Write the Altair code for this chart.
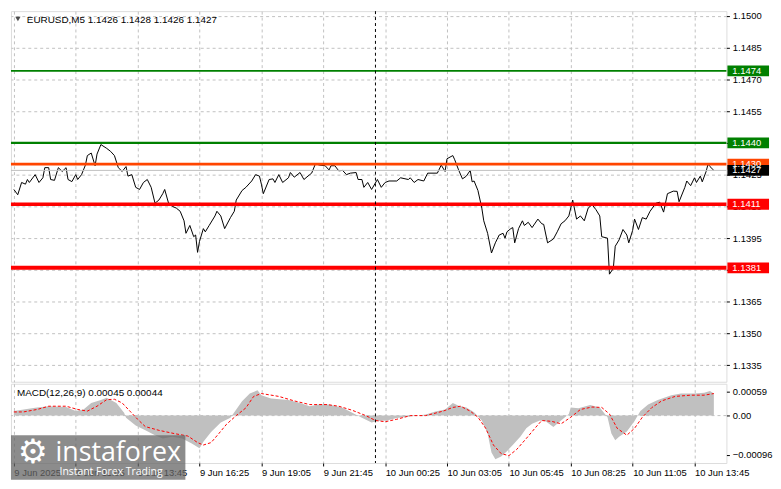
import json
import altair as alt
import pandas as pd

# ---------------- data ----------------
symbol = "EURUSD,M5"
ohlc = [1.1426, 1.1428, 1.1426, 1.1427]
macd_name = "MACD(12,26,9)"
macd_last = [0.00045, 0.00044]

# (bar index, close) – one bar = 5 minutes, bar 0 = 9 Jun 08:25
price_points = [
    (0, 1.14180), (2, 1.14155), (4, 1.14213), (6, 1.14205), (7, 1.14227), (8, 1.14213), (11, 1.14250),
    (13, 1.14213), (15, 1.14235), (16, 1.14283), (18, 1.14283), (19, 1.14227), (21, 1.14223), (23, 1.14283),
    (25, 1.14265), (27, 1.14283), (28, 1.14227), (30, 1.14217), (32, 1.14250), (33, 1.14227), (35, 1.14250),
    (37, 1.14295), (38, 1.14340), (40, 1.14352), (42, 1.14292), (43, 1.14347), (45, 1.14392), (48, 1.14374),
    (50, 1.14360), (52, 1.14340), (54, 1.14283), (56, 1.14265), (58, 1.14288), (59, 1.14243), (61, 1.14250),
    (63, 1.14190), (65, 1.14180), (67, 1.14213), (69, 1.14227), (71, 1.14190), (73, 1.14115), (75, 1.14130),
    (77, 1.14160), (78, 1.14180), (80, 1.14115), (82, 1.14100), (84, 1.14092), (86, 1.14077), (88, 1.14032),
    (89, 1.13973), (91, 1.14010), (93, 1.13957), (94, 1.13965), (95, 1.13883), (96, 1.13935), (98, 1.13995),
    (99, 1.13980), (101, 1.14010), (104, 1.14055), (105, 1.14077), (107, 1.14055), (109, 1.13995),
    (112, 1.14047), (114, 1.14077), (115, 1.14130), (118, 1.14175), (120, 1.14190), (123, 1.14220),
    (125, 1.14250), (127, 1.14243), (128, 1.14205), (129, 1.14160), (132, 1.14227), (134, 1.14230),
    (135, 1.14213), (137, 1.14250), (139, 1.14213), (142, 1.14235), (143, 1.14260), (145, 1.14238),
    (148, 1.14260), (150, 1.14227), (153, 1.14250), (154, 1.14257), (156, 1.14302), (158, 1.14295),
    (161, 1.14292), (163, 1.14272), (164, 1.14292), (166, 1.14292), (168, 1.14268), (170, 1.14270),
    (172, 1.14250), (174, 1.14257), (177, 1.14260), (178, 1.14227), (180, 1.14227), (181, 1.14190),
    (183, 1.14213), (185, 1.14180), (188, 1.14227), (190, 1.14190), (192, 1.14213), (194, 1.14220),
    (198, 1.14220), (200, 1.14235), (204, 1.14227), (205, 1.14235), (207, 1.14213), (209, 1.14227),
    (212, 1.14220), (214, 1.14257), (219, 1.14257), (221, 1.14295), (223, 1.14265), (224, 1.14325),
    (227, 1.14340), (228, 1.14320), (230, 1.14272), (232, 1.14230), (234, 1.14243), (236, 1.14270),
    (237, 1.14216), (238, 1.14220), (240, 1.14175), (242, 1.14092), (243, 1.14032), (245, 1.13973),
    (247, 1.13880), (249, 1.13928), (251, 1.13965), (253, 1.13973), (254, 1.13950), (255, 1.13980),
    (257, 1.13995), (258, 1.14000), (259, 1.13928), (261, 1.13995), (263, 1.14032), (264, 1.14010),
    (266, 1.14025), (268, 1.14000), (271, 1.14040), (273, 1.14018), (274, 1.14015), (276, 1.13928),
    (279, 1.13946), (281, 1.13980), (283, 1.14018), (285, 1.14032), (287, 1.14055), (289, 1.14130),
    (291, 1.14040), (293, 1.14055), (295, 1.14032), (297, 1.14092), (299, 1.14108), (301, 1.14085),
    (303, 1.14055), (304, 1.13957), (307, 1.13950), (308, 1.13780), (310, 1.13807), (311, 1.13912),
    (313, 1.13942), (315, 1.13991), (317, 1.13965), (318, 1.13928), (320, 1.13987), (321, 1.14040),
    (323, 1.13991), (325, 1.14047), (327, 1.14040), (329, 1.14077), (332, 1.14115), (334, 1.14120),
    (336, 1.14073), (338, 1.14160), (341, 1.14172), (343, 1.14171), (344, 1.14122), (347, 1.14190),
    (348, 1.14220), (350, 1.14198), (352, 1.14235), (353, 1.14213), (355, 1.14243), (356, 1.14216),
    (358, 1.14265), (359, 1.14300), (360, 1.14288), (362, 1.14270),
]

# MACD main (histogram) and signal line
hist_points = [
    (0, 0.00011), (11, 0.00019), (18, 0.00023), (27, 0.00021), (32, 0.00011), (36, 0.00015), (40, 0.00031),
    (45, 0.00038), (48, 0.00044), (53, 0.00031), (57, 0.00007), (58, -0.00005), (63, -0.00024), (68, -0.00036),
    (73, -0.00048), (77, -0.00056), (82, -0.00052), (87, -0.00056), (92, -0.00068), (96, -0.00080),
    (98, -0.00064), (102, -0.00040), (107, -0.00017), (112, -0.00005), (115, 0.00015), (118, 0.00035),
    (122, 0.00054), (126, 0.00062), (128, 0.00050), (133, 0.00042), (142, 0.00038), (148, 0.00031),
    (153, 0.00023), (158, 0.00028), (163, 0.00027), (170, 0.00019), (175, 0.00007), (180, -0.00005),
    (185, -0.00017), (188, -0.00013), (193, -0.00012), (198, -0.00006), (205, -0.00002), (213, 0.00003),
    (218, 0.00010), (223, 0.00015), (227, 0.00031), (230, 0.00024), (234, 0.00020), (238, 0.00008),
    (242, -0.00012), (245, -0.00044), (247, -0.00090), (249, -0.00107), (252, -0.00100), (255, -0.00087),
    (258, -0.00072), (262, -0.00051), (265, -0.00031), (268, -0.00020), (272, -0.00012), (275, -0.00014),
    (279, -0.00028), (283, -0.00012), (287, 0.00004), (288, 0.00020), (292, 0.00018), (298, 0.00026),
    (303, 0.00020), (307, -0.00004), (309, -0.00044), (311, -0.00060), (313, -0.00052), (317, -0.00039),
    (321, -0.00013), (324, 0.00011), (328, 0.00027), (333, 0.00038), (340, 0.00050), (345, 0.00054),
    (352, 0.00054), (357, 0.00056), (360, 0.00060), (362, 0.00054),
]
signal_points = [
    (0, 0.00009), (5, 0.00009), (12, 0.00015), (18, 0.00023), (27, 0.00023), (33, 0.00015), (38, 0.00011),
    (43, 0.00023), (48, 0.00039), (52, 0.00040), (56, 0.00031), (60, 0.00011), (64, -0.00009), (68, -0.00027),
    (75, -0.00036), (83, -0.00044), (90, -0.00050), (95, -0.00066), (98, -0.00072), (102, -0.00066),
    (106, -0.00044), (110, -0.00021), (115, 0.00000), (120, 0.00019), (124, 0.00047), (128, 0.00054),
    (137, 0.00047), (145, 0.00036), (153, 0.00027), (162, 0.00027), (168, 0.00023), (175, 0.00013),
    (182, 0.00000), (187, -0.00012), (192, -0.00015), (198, -0.00009), (205, 0.00000), (213, 0.00000),
    (222, 0.00011), (227, 0.00020), (231, 0.00023), (236, 0.00011), (240, -0.00004), (244, -0.00031),
    (248, -0.00072), (252, -0.00093), (256, -0.00098), (260, -0.00083), (265, -0.00056), (270, -0.00028),
    (273, -0.00012), (278, -0.00014), (283, -0.00020), (288, -0.00004), (293, 0.00015), (299, 0.00021),
    (304, 0.00020), (308, 0.00004), (312, -0.00031), (317, -0.00048), (321, -0.00031), (325, -0.00004),
    (330, 0.00020), (335, 0.00036), (342, 0.00047), (350, 0.00050), (357, 0.00050), (362, 0.00054),
]

# horizontal levels drawn on the chart
level_price = [1.1427, 1.1474, 1.1440, 1.1430, 1.1411, 1.1381]
level_kind = ["current", "green_thick", "green", "orange", "red", "red_thick"]

price_ticks = [1.1500, 1.1485, 1.1470, 1.1455, 1.1440, 1.1425, 1.1410, 1.1395, 1.1380, 1.1365, 1.1350, 1.1335]
macd_ticks = [0.00059, 0.0, -0.00096]
time_ticks = [0, 32, 64, 96, 128, 160, 192, 224, 256, 288, 320, 352]
time_labels = ["9 Jun 2025", "9 Jun 11:05", "9 Jun 13:45", "9 Jun 16:25", "9 Jun 19:05", "9 Jun 21:45",
               "10 Jun 00:25", "10 Jun 03:05", "10 Jun 05:45", "10 Jun 08:25", "10 Jun 11:05", "10 Jun 13:45"]
day_separator_bar = [187]

# ---------------- frames ----------------
price_df = pd.DataFrame(price_points, columns=["bar", "price"])
hist_df = pd.DataFrame(hist_points, columns=["bar", "macd"])
sig_df = pd.DataFrame(signal_points, columns=["bar", "signal"])
lvl_df = pd.DataFrame({"level": level_price, "kind": level_kind})
sep_df = pd.DataFrame({"bar": day_separator_bar})
one = pd.DataFrame({"k": [0]})

# ---------------- style ----------------
W, H1, H2 = 722, 374, 80
FONT = "Liberation Sans"
FS = 9.5
GRID = "#c0c0c0"

xscale = alt.Scale(domain=[-1.5, 368.5], nice=False, zero=False)
yscale = alt.Scale(domain=[1.13272, 1.15022], nice=False, zero=False)
mscale = alt.Scale(domain=[-0.00116, 0.00078], nice=False, zero=False)

label_expr = f"{json.dumps(time_labels)}[indexof({json.dumps(time_ticks)}, datum.value)]"

x_main_axis = alt.Axis(values=time_ticks, grid=True, gridColor=GRID, gridDash=[3, 3], labels=False,
                       ticks=False, domain=False, title=None)
x_macd_axis = alt.Axis(values=time_ticks, grid=True, gridColor=GRID, gridDash=[3, 3], labels=True,
                       labelExpr=label_expr, labelAlign="left", labelBaseline="top", labelPadding=2,
                       labelFont=FONT, labelFontSize=FS, labelColor="black", labelOverlap=False,
                       labelFlush=False, ticks=True, tickSize=3, tickColor="black", domain=False, title=None)
y_main_axis = alt.Axis(orient="right", values=price_ticks, format=".4f", grid=True, gridColor=GRID,
                       gridDash=[3, 3], ticks=True, tickSize=3, tickColor="black", domain=False,
                       labelFont=FONT, labelFontSize=FS, labelColor="black", labelPadding=3,
                       labelOverlap=False, title=None)
y_macd_axis = alt.Axis(orient="right", values=macd_ticks, grid=False, ticks=True, tickSize=3,
                       tickColor="black", domain=False, labelFont=FONT, labelFontSize=FS, labelColor="black",
                       labelPadding=3, labelOverlap=False, title=None,
                       labelExpr="datum.value == 0 ? '0.00' : format(datum.value, '.5f')")

kinds = ["current", "green_thick", "green", "orange", "red", "red_thick"]
rule_colors = ["#c0c0c0", "#008000", "#008000", "#ff4500", "#ff0000", "#ff0000"]
rule_widths = [1, 4, 2, 1, 2, 4]
box_colors = ["#000000", "#008000", "#008000", "#ff4500", "#ff0000", "#ff0000"]

# ---------------- main panel ----------------
price_line = alt.Chart(price_df).mark_line(color="black", strokeWidth=1).encode(
    x=alt.X("bar:Q", scale=xscale, axis=x_main_axis),
    y=alt.Y("price:Q", scale=yscale, axis=y_main_axis),
)

level_rules = alt.Chart(lvl_df).mark_rule().encode(
    y=alt.Y("level:Q", scale=yscale, axis=y_main_axis),
    color=alt.Color("kind:N", scale=alt.Scale(domain=kinds, range=rule_colors), legend=None),
    strokeWidth=alt.StrokeWidth("kind:N", scale=alt.Scale(domain=kinds, range=rule_widths), legend=None),
)

sep_main = alt.Chart(sep_df).mark_rule(color="black", strokeDash=[3, 3], strokeWidth=1).encode(
    x=alt.X("bar:Q", scale=xscale, axis=x_main_axis),
)

# price tags on the right scale (drawn after the axis labels so they cover them)
box_order = ["green_thick", "green", "orange", "red", "red_thick", "current"]
tag_df = lvl_df.set_index("kind").loc[box_order].reset_index()
tag_shape = "M0,-0.13L1,-0.13L1,0.13L0,0.13Z"
tag_boxes = alt.Chart(tag_df).mark_point(shape=tag_shape, filled=True, size=7056, opacity=1,
                                         strokeWidth=0).encode(
    x=alt.value(W + 1),
    y=alt.Y("level:Q", scale=yscale, axis=y_main_axis),
    color=alt.Color("kind:N", scale=alt.Scale(domain=kinds, range=box_colors), legend=None),
    order=alt.Order("idx:Q"),
).transform_window(idx="row_number()")
tag_text = alt.Chart(tag_df).mark_text(align="left", baseline="middle", color="white", font=FONT,
                                       fontSize=FS).encode(
    x=alt.value(W + 6),
    y=alt.Y("level:Q", scale=yscale, axis=y_main_axis),
    text=alt.Text("level:Q", format=".4f"),
)

title_txt = f"{symbol}  " + " ".join(f"{v:.4f}" for v in ohlc)
title_main = alt.Chart(one).mark_text(align="left", baseline="middle", font=FONT, fontSize=10,
                                      color="black").encode(
    x=alt.value(16), y=alt.value(9), text=alt.value(title_txt))
title_tri = alt.Chart(one).mark_point(shape="triangle-down", filled=True, size=28, color="black").encode(
    x=alt.value(7), y=alt.value(8))

main = alt.layer(price_line, level_rules, sep_main, tag_boxes, tag_text, title_main, title_tri).resolve_scale(
    color="independent").properties(width=W, height=H1)

# ---------------- MACD panel ----------------
zero_df = pd.DataFrame({"z": [0.0]})
zero_rule = alt.Chart(zero_df).mark_rule(color=GRID, strokeDash=[3, 3], strokeWidth=1).encode(
    y=alt.Y("z:Q", scale=mscale, axis=y_macd_axis))
hist_area = alt.Chart(hist_df).mark_area(color="#c0c0c0", opacity=1).encode(
    x=alt.X("bar:Q", scale=xscale, axis=x_macd_axis),
    y=alt.Y("macd:Q", scale=mscale, axis=y_macd_axis),
)
sig_line = alt.Chart(sig_df).mark_line(color="#ff0000", strokeDash=[3, 2], strokeWidth=1).encode(
    x=alt.X("bar:Q", scale=xscale, axis=x_macd_axis),
    y=alt.Y("signal:Q", scale=mscale, axis=y_macd_axis),
)
sep_macd = alt.Chart(sep_df).mark_rule(color="black", strokeDash=[3, 3], strokeWidth=1).encode(
    x=alt.X("bar:Q", scale=xscale, axis=x_macd_axis),
)
macd_txt = f"{macd_name} " + " ".join(f"{v:.5f}" for v in macd_last)
macd_title = alt.Chart(one).mark_text(align="left", baseline="middle", font=FONT, fontSize=10,
                                      color="black").encode(
    x=alt.value(6), y=alt.value(9), text=alt.value(macd_txt))

# instaforex watermark
wm_rect = alt.Chart(one).mark_rect(color="#666666", opacity=0.75).encode(
    x=alt.value(0), x2=alt.value(176), y=alt.value(52), y2=alt.value(97))
wm_gear = alt.Chart(one).mark_text(align="center", baseline="middle", font="DejaVu Sans", fontSize=34,
                                   color="white").encode(
    x=alt.value(22), y=alt.value(70), text=alt.value("\u2699"))
wm_name = alt.Chart(one).mark_text(align="left", baseline="alphabetic", font="Open Sans", fontSize=27,
                                   color="white").encode(
    x=alt.value(45), y=alt.value(78), text=alt.value("instaforex"))
wm_sub = alt.Chart(one).mark_text(align="left", baseline="middle", font="Open Sans", fontSize=10.5,
                                  color="white").encode(
    x=alt.value(49), y=alt.value(89), text=alt.value("Instant Forex Trading"))

macd = alt.layer(zero_rule, hist_area, sig_line, sep_macd, macd_title, wm_rect, wm_gear, wm_name,
                 wm_sub).properties(width=W, height=H2)

chart = alt.vconcat(main, macd, spacing=2, bounds="flush").properties(padding=0).configure_view(
    stroke="black", strokeWidth=1).configure(background="white")

chart.save("out.html", embed_options={"renderer": "svg", "actions": False})
